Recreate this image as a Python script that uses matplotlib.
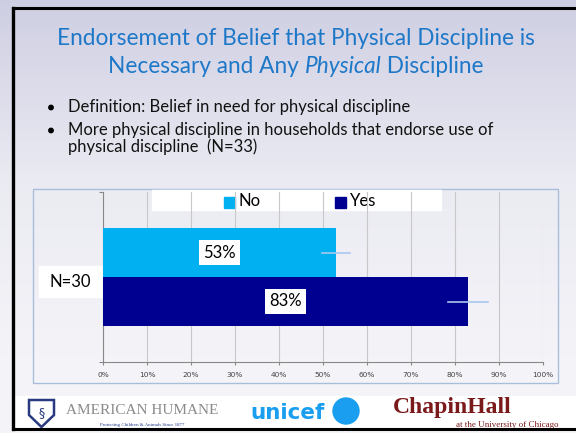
import numpy as np
import matplotlib
matplotlib.use("Agg")
import matplotlib.pyplot as plt
from matplotlib.patches import Rectangle, Polygon, Circle

# ---- data ----
categories = ["N=30"]
series_names = ["No", "Yes"]
series_values = [53, 83]          # percent
series_err = [3.2, 4.5]           # error-bar half widths (approx)
series_colors = ["#00b0f0", "#000090"]
xticks = [0, 10, 20, 30, 40, 50, 60, 70, 80, 90, 100]
xtick_labels = [f"{t}%" for t in xticks]
title_line1 = "Endorsement of Belief that Physical Discipline is"
title_line2 = ["Necessary and Any ", "Physical", " Discipline"]
bullets = ["Definition: Belief in need for physical discipline",
           "More physical discipline in households that endorse use of",
           "physical discipline  (N=33)"]

W, H = 576, 433
fig = plt.figure(figsize=(W / 100, H / 100), dpi=100)

def fx(x):
    return x / W

def fy(y):
    return 1 - y / H

# ---- background ----
bg = fig.add_axes([0, 0, 1, 1], zorder=-10)
bg.set_xlim(0, W)
bg.set_ylim(H, 0)
bg.axis("off")
rows = np.linspace(0, 1, 433)
top = np.array([0.81, 0.81, 0.89])
mid = np.array([0.92, 0.92, 0.95])
low = np.array([0.96, 0.96, 0.975])
img = np.zeros((433, 2, 3))
for i, r in enumerate(rows):
    if r < 0.42:
        t = r / 0.42
        c = top * (1 - t) + mid * t
    else:
        t = min((r - 0.42) / 0.45, 1)
        c = mid * (1 - t) + low * t
    img[i, :, :] = c
bg.imshow(img, extent=[0, W, H, 0], aspect="auto", interpolation="bilinear")
# white logo band
bg.add_patch(Rectangle((14, 396), W - 14, 33, color="white", zorder=1))
# slide border
bg.plot([13, W], [7.5, 7.5], color="black", lw=2.2, zorder=5)
bg.plot([13, 13], [7.5, 429], color="black", lw=2.4, zorder=5)
bg.plot([13, W], [429, 429], color="black", lw=2.2, zorder=5)

# ---- title & bullets ----
font = ["Lato", "DejaVu Sans"]
tcol = "#1e78c8"
tsize = 16.3
fig.text(fx(296), fy(45), title_line1, ha="center", va="baseline",
         fontsize=tsize, color=tcol, family=font)
renderer = fig.canvas.get_renderer()
parts = []
for k, s in enumerate(title_line2):
    style = "italic" if k == 1 else "normal"
    parts.append(fig.text(0, fy(73), s, ha="left", va="baseline", fontsize=tsize,
                          color=tcol, family=font, style=style))
widths = [p.get_window_extent(renderer).width for p in parts]
x0 = 296 - sum(widths) / 2
for p, w in zip(parts, widths):
    p.set_x(fx(x0))
    x0 += w

bsize = 12
bg.add_patch(Circle((51, 107.5), 2.2, color="black", zorder=4))
fig.text(fx(68), fy(112), bullets[0], ha="left", va="baseline", fontsize=bsize,
         color="#111111", family=font)
bg.add_patch(Circle((51, 130.5), 2.2, color="black", zorder=4))
fig.text(fx(68), fy(135.5), bullets[1], ha="left", va="baseline", fontsize=bsize,
         color="#111111", family=font)
fig.text(fx(68), fy(152), bullets[2], ha="left", va="baseline", fontsize=bsize,
         color="#111111", family=font)

# ---- chart area box ----
bg.add_patch(Rectangle((33, 189), 558 - 33, 383 - 189, fill=False,
                       edgecolor="#a8bedc", lw=1.0, zorder=2))

# ---- plot ----
ax = fig.add_axes([fx(103), fy(362), fx(543) - fx(103), (362 - 192) / H])
ax.patch.set_alpha(0)
ax.set_xlim(0, 100)
ax.set_ylim(-0.5, 0.5)
h = 49 / 170
ys = [h / 2, -h / 2]
for name, v, e, c, y in zip(series_names, series_values, series_err, series_colors, ys):
    ax.barh(y, v, height=h, color=c, zorder=3, label=name)
    ax.plot([v - e, v + e], [y, y], color="#a8c8ee", lw=1.2, zorder=4)
    ax.text(v / 2, y, f"{v}%", ha="center", va="center", fontsize=12, family=font,
            color="black", zorder=5,
            bbox=dict(boxstyle="square,pad=0.25", facecolor="white", edgecolor="none"))
ax.set_xticks(xticks)
ax.set_xticklabels(xtick_labels, fontsize=5.3, color="#444444")
ax.xaxis.grid(True, color="#c8c8c8", lw=0.8, zorder=0)
ax.set_yticks([-0.5, 0.5])
ax.set_yticklabels([])
ax.tick_params(axis="x", length=2.5, color="#888888", pad=4.5)
ax.tick_params(axis="y", length=3, color="#888888", direction="out")
for s in ["top", "right"]:
    ax.spines[s].set_visible(False)
for s in ["left", "bottom"]:
    ax.spines[s].set_color("#888888")
    ax.spines[s].set_linewidth(0.8)

# category label
bg.add_patch(Rectangle((39, 266), 63, 31, color="white", zorder=3))
bg.text(70.5, 282, categories[0], ha="center", va="center", fontsize=12,
        family=font, color="black", zorder=4)

# legend
bg.add_patch(Rectangle((152, 190), 441 - 152, 19.5, color="white", zorder=3))
leg_x = [224, 335]
for name, c, lx in zip(series_names, series_colors, leg_x):
    bg.add_patch(Rectangle((lx, 197), 11, 10.5, color=c, zorder=4))
    bg.text(lx + 15, 201.5, name, ha="left", va="center", fontsize=12, family=font,
            color="black", zorder=4)

# ---- logos (as text) ----
shield = Polygon([[29, 400], [54, 400], [54, 415], [41.5, 427], [29, 415]],
                 closed=True, facecolor="white", edgecolor="#2a3a80", lw=1.8, zorder=3)
bg.add_patch(shield)
bg.text(41.5, 413, "\u00a7", ha="center", va="center", fontsize=9, color="#2a3a80", zorder=4)
bg.text(66, 410, "AMERICAN HUMANE", ha="left", va="center", fontsize=11,
        family=["Liberation Serif"], color="#8a8a8a", zorder=4)
bg.text(142, 425, "Protecting Children & Animals Since 1877", ha="center", va="center",
        fontsize=3.5, family=["Liberation Serif"], color="#1d3a8a", zorder=4)
bg.text(288, 413, "unicef", ha="center", va="center", fontsize=15.5, fontweight="bold",
        family=["DejaVu Sans"], color="#1a9ef0", zorder=4)
bg.add_patch(Circle((346, 411), 13, color="#1a9ef0", zorder=4))
bg.text(452, 408, "ChapinHall", ha="center", va="center", fontsize=17, fontweight="bold",
        family=["Liberation Serif"], color="#7a1a1a", zorder=4)
bg.text(507, 425, "at the University of Chicago", ha="center", va="center", fontsize=6.5,
        family=["Liberation Serif"], color="#7a1a1a", zorder=4)

fig.savefig("out.png", dpi=100)
